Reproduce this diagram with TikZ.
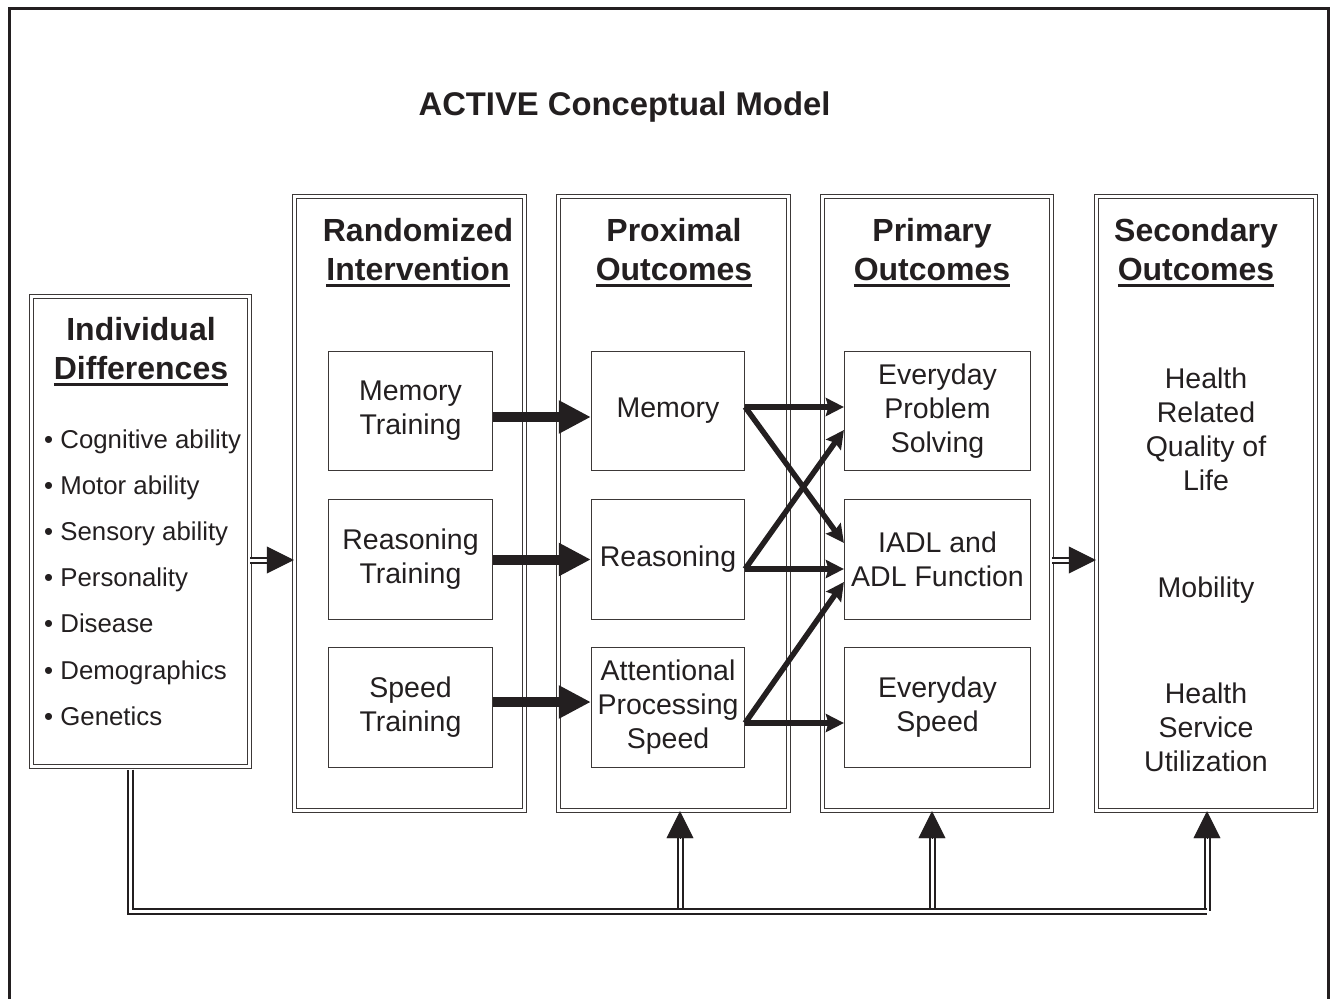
\documentclass[tikz,border=0pt]{standalone}
\usepackage{fontspec}
\setmainfont{Liberation Sans}
\usetikzlibrary{arrows.meta,calc}

\definecolor{ink}{HTML}{231F20}
\definecolor{rim}{HTML}{3C3837}

% type sizes
\newcommand{\titlefont}{\fontsize{32.8}{38}\selectfont\bfseries}
\newcommand{\hdfont}{\fontsize{32}{39}\selectfont\bfseries}
\newcommand{\cellfont}{\fontsize{28.5}{34}\selectfont}
\newcommand{\listfont}{\fontsize{25.8}{46.2}\selectfont}
% heading underline: a heavy rule just below the baseline
\newcommand{\hdrule}[1]{\setbox0\hbox{#1}\rlap{\color{ink}\rule[-7pt]{\wd0}{3pt}}\box0}

\begin{document}
\begin{tikzpicture}[x=1pt,y=-1pt,
  frame/.style={draw=ink, line width=3pt},
  column/.style={draw=rim, line width=1.4pt, double=white, double distance=2.2pt, inner sep=0pt},
  cell/.style={draw=rim, line width=1.2pt, inner sep=0pt, align=center, font=\cellfont, text=ink},
  head/.style={align=center, font=\hdfont, inner sep=0pt, text=ink},
  plain/.style={align=center, font=\cellfont, inner sep=0pt, text=ink},
  bigarrow/.style={draw=ink, line width=10pt, -{Triangle[length=32pt,width=31pt]}},
  linkarrow/.style={draw=ink, line width=5.5pt, -{Stealth[length=18pt,width=18pt,inset=2.5pt]}},
  pipe/.style={draw=ink, line width=2pt, double=white, double distance=3pt},
  pipetip/.style={draw=ink, line width=0.4pt, -{Triangle[length=27pt,width=27pt]}}
]
\useasboundingbox (0,0) rectangle (1337,998);

% outer frame
\draw[frame] (9,9) rectangle (1328,1012);

% title
\node[font=\titlefont, text=ink, inner sep=0pt] (title) at (624.5,107) {ACTIVE Conceptual Model};

% columns
\node[column, minimum width=218pt, minimum height=470pt] (id) at (140.5,531.5) {};
\node[column, minimum width=230pt, minimum height=614pt] (ri) at (409.5,503.5) {};
\node[column, minimum width=230pt, minimum height=614pt] (po) at (673.5,503.5) {};
\node[column, minimum width=229pt, minimum height=614pt] (pr) at (937,503.5) {};
\node[column, minimum width=219pt, minimum height=614pt] (so) at (1206,503.5) {};

% column headings
\node[head] (id-h) at (141,351.5) {Individual\\\hdrule{Differences}};
\node[head] (ri-h) at (418,252.5) {Randomized\\\hdrule{Intervention}};
\node[head] (po-h) at (674,252.5) {Proximal\\\hdrule{Outcomes}};
\node[head] (pr-h) at (932,252.5) {Primary\\\hdrule{Outcomes}};
\node[head] (so-h) at (1196,252.5) {Secondary\\\hdrule{Outcomes}};

% individual differences list
\node[font=\listfont, align=left, anchor=west, inner sep=0pt, text=ink] (id-list) at (44,577.5)
  {• Cognitive ability\\• Motor ability\\• Sensory ability\\• Personality\\• Disease\\• Demographics\\• Genetics};

% training arms
\node[cell, minimum width=164pt, minimum height=119pt] (mt) at (410.5,411) {Memory\\Training};
\node[cell, minimum width=164pt, minimum height=120pt] (rt) at (410.5,559.5) {Reasoning\\Training};
\node[cell, minimum width=164pt, minimum height=120pt] (st) at (410.5,707.5) {Speed\\Training};

% proximal outcomes
\node[cell, minimum width=153pt, minimum height=119pt] (pm) at (668,411) {Memory};
\node[cell, minimum width=153pt, minimum height=120pt] (pq) at (668,559.5) {Reasoning};
\node[cell, minimum width=153pt, minimum height=120pt] (ps) at (668,707.5) {Attentional\\Processing\\Speed};

% primary outcomes
\node[cell, minimum width=186pt, minimum height=119pt] (pp) at (937.5,411) {Everyday\\Problem\\Solving};
\node[cell, minimum width=186pt, minimum height=120pt] (pi) at (937.5,559.5) {IADL and\\ADL Function};
\node[cell, minimum width=186pt, minimum height=120pt] (pe) at (937.5,707.5) {Everyday\\Speed};

% secondary outcomes
\node[plain] (hrq) at (1206,429) {Health\\Related\\Quality of\\Life};
\node[plain] (mob) at (1206,590) {Mobility};
\node[plain] (hsu) at (1206,727) {Health\\Service\\Utilization};

% training -> proximal
\draw[bigarrow] ([yshift=-6pt]mt.east) -- ([yshift=-6pt]pm.west);
\draw[bigarrow] (rt.east) -- (pq.west);
\draw[bigarrow] ([yshift=5.5pt]st.east) -- ([yshift=5.5pt]ps.west);

% proximal -> primary
\draw[linkarrow] ([yshift=4pt]pm.east) -- ([yshift=4pt]pp.west);
\draw[linkarrow] ([yshift=4pt]pm.east) -- ([yshift=16.5pt]pi.west);
\draw[linkarrow] ([yshift=-9.5pt]pq.east) -- ([yshift=-19pt]pp.west);
\draw[linkarrow] ([yshift=-9.5pt]pq.east) -- ([yshift=-9.5pt]pi.west);
\draw[linkarrow] ([yshift=-15.5pt]ps.east) -- ([yshift=-22.5pt]pi.west);
\draw[linkarrow] ([yshift=-15.5pt]ps.east) -- ([yshift=-15.5pt]pe.west);

% individual differences -> intervention
\coordinate (id-in) at ([yshift=-28.5pt]id.east -| ri.west);
\draw[pipe] ([yshift=-28.5pt]id.east) -- ([xshift=-26pt]id-in);
\draw[pipetip] ([xshift=-27pt]id-in) -- (id-in);

% primary -> secondary
\coordinate (pr-in) at ([yshift=-56.5pt]pr.east -| so.west);
\draw[pipe] ([yshift=-56.5pt]pr.east) -- ([xshift=-26pt]pr-in);
\draw[pipetip] ([xshift=-27pt]pr-in) -- (pr-in);

% moderating path along the bottom
\coordinate (busw) at (130,911);
\coordinate (buse) at (1207,911);
\coordinate (drop) at (busw |- id.south);
\coordinate (tpo) at ([xshift=6.5pt]po.south);
\coordinate (tpr) at ([xshift=-5pt]pr.south);
\coordinate (tso) at ([xshift=1pt]so.south);

\draw[pipe] (tpo |- busw) -- ([yshift=-26pt]tpo);
\draw[pipetip] ([yshift=-27pt]tpo) -- (tpo);
\draw[pipe] (tpr |- busw) -- ([yshift=-26pt]tpr);
\draw[pipetip] ([yshift=-27pt]tpr) -- (tpr);
\draw[pipe] (tso |- busw) -- ([yshift=-26pt]tso);
\draw[pipetip] ([yshift=-27pt]tso) -- (tso);
\draw[pipe] ([yshift=-2.5pt]drop) -- (busw) -- (buse);
\end{tikzpicture}
\end{document}
